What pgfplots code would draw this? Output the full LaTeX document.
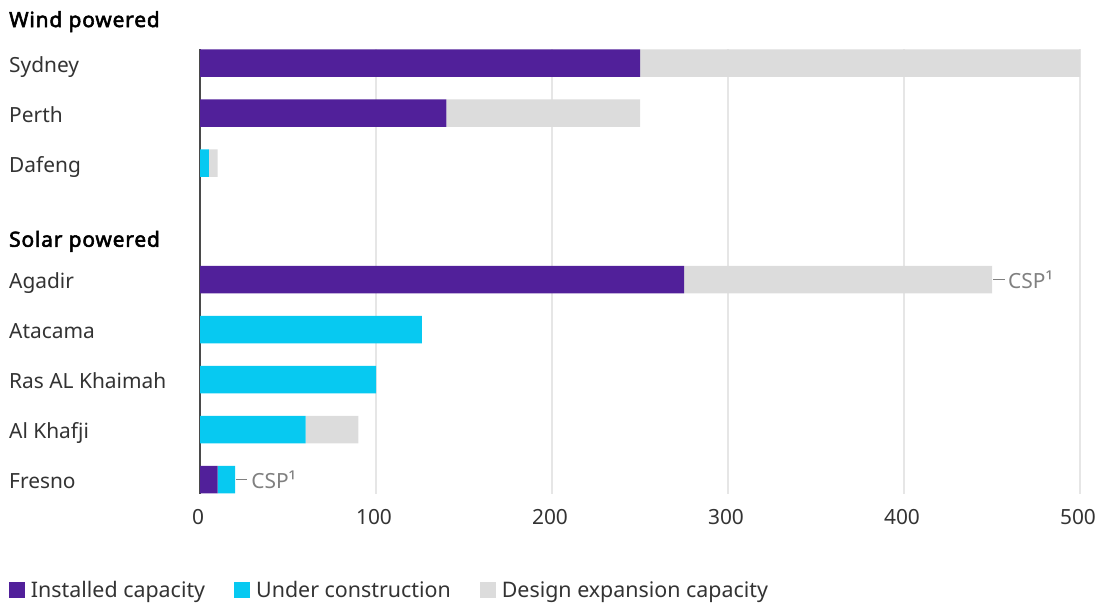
\documentclass[border=0pt]{standalone}
\usepackage{pgfplots}
\pgfplotsset{compat=1.18}
\usepackage{fontspec}
\setmainfont{Noto Sans}
\newfontfamily\headfont{Noto Sans}[FakeBold=2.6, LetterSpace=4]
\definecolor{inst}{HTML}{51209A}
\definecolor{cons}{HTML}{07C9F1}
\definecolor{desg}{HTML}{DCDCDC}
\definecolor{txt}{HTML}{333333}
\definecolor{axln}{HTML}{4A4A4A}
\definecolor{grd}{HTML}{E6E6E6}
\definecolor{csp}{HTML}{808080}
\newcommand{\lbl}{\fontsize{20.9}{24}\selectfont}
\newcommand{\lgd}{\fontsize{21.4}{24}\selectfont}
\begin{document}
\begin{tikzpicture}[x=1pt,y=1pt]
\useasboundingbox (0,0) rectangle (1102,-604);
\begin{axis}[
 at={(200pt,-49.3pt)}, anchor=north west,
 scale only axis, width=880pt, height=444.4pt,
 xbar stacked, bar width=27.5pt,
 xmin=0, xmax=500, ymin=-0.275, ymax=8.613, y dir=reverse,
 clip=false,
 axis line style={draw=none},
 xtick={0,100,200,300,400,500},
 ytick={0,1,2,4.33,5.33,6.33,7.33,8.33},
 yticklabels={Sydney,Perth,Dafeng,Agadir,Atacama,Ras AL Khaimah,Al Khafji,Fresno},
 major tick length=0pt,
 xmajorgrids, major grid style={draw=grd, line width=1.8pt},
 /pgf/number format/assume math mode=true,
 tick label style={font=\lbl, text=txt, inner sep=0pt},
 yticklabel style={anchor=base west, xshift=-191pt, yshift=-9pt},
 xticklabel style={anchor=base, yshift=-31pt, xshift=-2pt},
 every axis plot post/.append style={legend image code/.code={\fill[##1] (0pt,-7.5pt) rectangle (16pt,8pt);}},
 legend style={at={(axis description cs:-0.21705,-0.217)}, anchor=west, draw=none, fill=none,
   inner sep=0pt, outer sep=0pt, font=\lgd, text=txt,
   /tikz/every odd column/.append style={column sep=6pt},
   /tikz/every even column/.append style={column sep=29pt},
   nodes={inner sep=0pt}},
 legend columns=3, legend cell align=left,
]
\addplot[fill=inst, draw=none] coordinates {(250,0) (140,1) (0,2) (275,4.33) (0,5.33) (0,6.33) (0,7.33) (10,8.33)};
\addplot[fill=cons, draw=none] coordinates {(0,0) (0,1) (5,2) (0,4.33) (126,5.33) (100,6.33) (60,7.33) (10,8.33)};
\addplot[fill=desg, draw=none] coordinates {(250,0) (110,1) (5,2) (175,4.33) (0,5.33) (0,6.33) (30,7.33) (0,8.33)};
\legend{Installed capacity, Under construction, Design expansion capacity}
\draw[axln, line width=1.9pt] (axis cs:0,-0.275) -- (axis cs:0,8.613);
\node[anchor=base west, inner sep=0pt, font=\lbl\headfont, text=black] at ([xshift=-191pt]axis cs:0,-0.72) {Wind powered};
\node[anchor=base west, inner sep=0pt, font=\lbl\headfont, text=black] at ([xshift=-191pt]axis cs:0,3.674) {Solar powered};
\draw[csp, line width=1.2pt] ([xshift=1pt]axis cs:450,4.33) -- ([xshift=13pt]axis cs:450,4.33);
\node[anchor=base west, inner sep=0pt, font=\lbl, text=csp] at ([xshift=16pt,yshift=-8.5pt]axis cs:450,4.33) {CSP¹};
\draw[csp, line width=1.2pt] ([xshift=1pt]axis cs:20,8.33) -- ([xshift=12pt]axis cs:20,8.33);
\node[anchor=base west, inner sep=0pt, font=\lbl, text=csp] at ([xshift=16pt,yshift=-9pt]axis cs:20,8.33) {CSP¹};
\end{axis}
\end{tikzpicture}
\end{document}
